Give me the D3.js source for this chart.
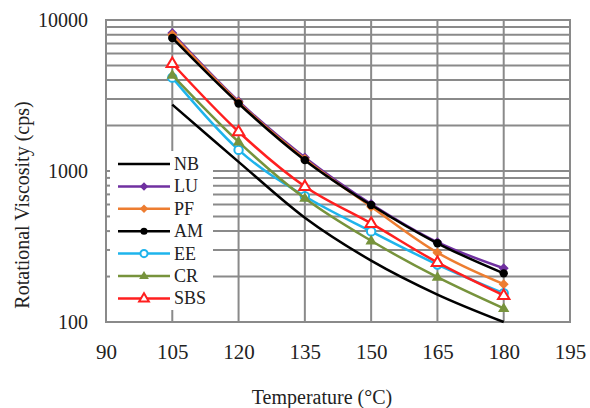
<!DOCTYPE html>
<html><head><meta charset="utf-8">
<script src="https://cdn.jsdelivr.net/npm/d3@7"></script>
<style>body{margin:0;background:#fff}svg{display:block}</style>
</head><body><svg id="c" width="590" height="408"></svg>
<script>
const temps = [105, 120, 135, 150, 165, 180];
const NB  = [2750, 1150, 490, 255, 152, 100];
const LU  = [8200, 2900, 1230, 605, 338, 227];
const PF  = [8000, 2850, 1200, 580, 288, 178];
const AM  = [7600, 2800, 1180, 595, 332, 210];
const EE  = [4150, 1380, 680, 398, 240, 155];
const CR  = [4320, 1560, 660, 345, 198, 123];
const SBS = [5150, 1820, 790, 450, 248, 150];
const seriesNames = ["NB", "LU", "PF", "AM", "EE", "CR", "SBS"];
const xTicks = [90, 105, 120, 135, 150, 165, 180, 195];
const yTicks = [100, 1000, 10000];

const seriesData = {NB, LU, PF, AM, EE, CR, SBS};
const styles = {
  NB:  {color: "#000000", marker: null},
  LU:  {color: "#7030A0", marker: "diamond"},
  PF:  {color: "#ED7D31", marker: "diamond"},
  AM:  {color: "#000000", marker: "circle"},
  EE:  {color: "#1EB4EC", marker: "opencircle"},
  CR:  {color: "#77933C", marker: "triangle"},
  SBS: {color: "#FF1F1F", marker: "opentriangle"}
};
const FONT = "'Liberation Serif'";
const TXT = "#222";

const svg = d3.select("#c");
const L = 106, R = 570, T = 20, B = 322;
const x = d3.scaleLinear().domain([90, 195]).range([L, R]);
const y = d3.scaleLog().domain([100, 10000]).range([B, T]);
const grid = "#8a8a8a";

const yGrid = [];
for (let d = 100; d < 10000; d *= 10) for (let k = 1; k <= 9; k++) yGrid.push(d * k);
yGrid.push(10000);
svg.append("g").selectAll("line").data(yGrid).join("line")
  .attr("x1", L).attr("x2", R).attr("y1", d => y(d)).attr("y2", d => y(d))
  .attr("stroke", grid).attr("stroke-width", 2);
svg.append("g").selectAll("line").data(xTicks).join("line")
  .attr("x1", d => x(d)).attr("x2", d => x(d)).attr("y1", T).attr("y2", B)
  .attr("stroke", grid).attr("stroke-width", 2);
svg.append("rect").attr("x", L).attr("y", T).attr("width", R - L).attr("height", B - T)
  .attr("fill", "none").attr("stroke", grid).attr("stroke-width", 2);

const yAxis = d3.axisLeft(y).tickValues(yTicks).tickFormat(d3.format("d")).tickSize(0).tickPadding(18);
const gy = svg.append("g").attr("transform", `translate(${L},0)`).call(yAxis);
gy.select(".domain").remove();
gy.selectAll("text").style("font-family", FONT).style("font-size", "20px").attr("fill", TXT);
const xAxis = d3.axisBottom(x).tickValues(xTicks).tickFormat(d3.format("d")).tickSize(0).tickPadding(22);
const gx = svg.append("g").attr("transform", `translate(0,${B})`).call(xAxis);
gx.select(".domain").remove();
gx.selectAll("text").style("font-family", FONT).style("font-size", "21px").attr("fill", TXT);

svg.append("text").attr("x", 322).attr("y", 404).attr("text-anchor", "middle")
  .style("font-family", FONT).style("font-size", "20px").attr("fill", TXT).text("Temperature (°C)");
svg.append("text").attr("transform", "translate(29,205) rotate(-90)").attr("text-anchor", "middle")
  .style("font-family", FONT).style("font-size", "20px").attr("fill", TXT).text("Rotational Viscosity (cps)");

const line = d3.line().x(d => x(d[0])).y(d => y(d[1])).curve(d3.curveCatmullRom.alpha(0));
function drawMarker(g, type, color, cx, cy, scale) {
  const s = scale || 1;
  if (type === "diamond") {
    const r = 5 * s;
    g.append("path").attr("d", `M${cx},${cy - r}L${cx + r},${cy}L${cx},${cy + r}L${cx - r},${cy}Z`).attr("fill", color);
  } else if (type === "circle") {
    g.append("circle").attr("cx", cx).attr("cy", cy).attr("r", 4.2 * s).attr("fill", color);
  } else if (type === "opencircle") {
    g.append("circle").attr("cx", cx).attr("cy", cy).attr("r", 4.2 * s).attr("fill", "#fff").attr("stroke", color).attr("stroke-width", 2);
  } else if (type === "triangle" || type === "opentriangle") {
    const r = 6 * s;
    const p = `M${cx},${cy - r}L${cx + r * 0.95},${cy + r * 0.6}L${cx - r * 0.95},${cy + r * 0.6}Z`;
    if (type === "triangle") g.append("path").attr("d", p).attr("fill", color);
    else g.append("path").attr("d", p).attr("fill", "#fff").attr("stroke", color).attr("stroke-width", 2);
  }
}
seriesNames.forEach(name => {
  const st = styles[name];
  const pts = temps.map((t, i) => [t, seriesData[name][i]]);
  const g = svg.append("g");
  g.append("path").attr("d", line(pts)).attr("fill", "none").attr("stroke", st.color).attr("stroke-width", 2.5);
  if (st.marker) pts.forEach(p => drawMarker(g, st.marker, st.color, x(p[0]), y(p[1])));
});

const lg = svg.append("g");
lg.append("rect").attr("x", L + 1).attr("y", 151).attr("width", 106).attr("height", 159).attr("fill", "#fff");
lg.selectAll("line.tk").data(yGrid.filter(d => y(d) > 151 && y(d) < 310)).join("line")
  .attr("x1", L).attr("x2", L + 4).attr("y1", d => y(d)).attr("y2", d => y(d))
  .attr("stroke", grid).attr("stroke-width", 2);
seriesNames.forEach((name, i) => {
  const st = styles[name];
  const cy = 164 + i * 22.4;
  lg.append("line").attr("x1", 118).attr("x2", 170).attr("y1", cy).attr("y2", cy)
    .attr("stroke", st.color).attr("stroke-width", 2.5);
  if (st.marker) drawMarker(lg, st.marker, st.color, 144, cy, 0.85);
  lg.append("text").attr("x", 174).attr("y", cy + 6).style("font-family", FONT).style("font-size", "18px").attr("fill", TXT).text(name);
});
</script></body></html>
